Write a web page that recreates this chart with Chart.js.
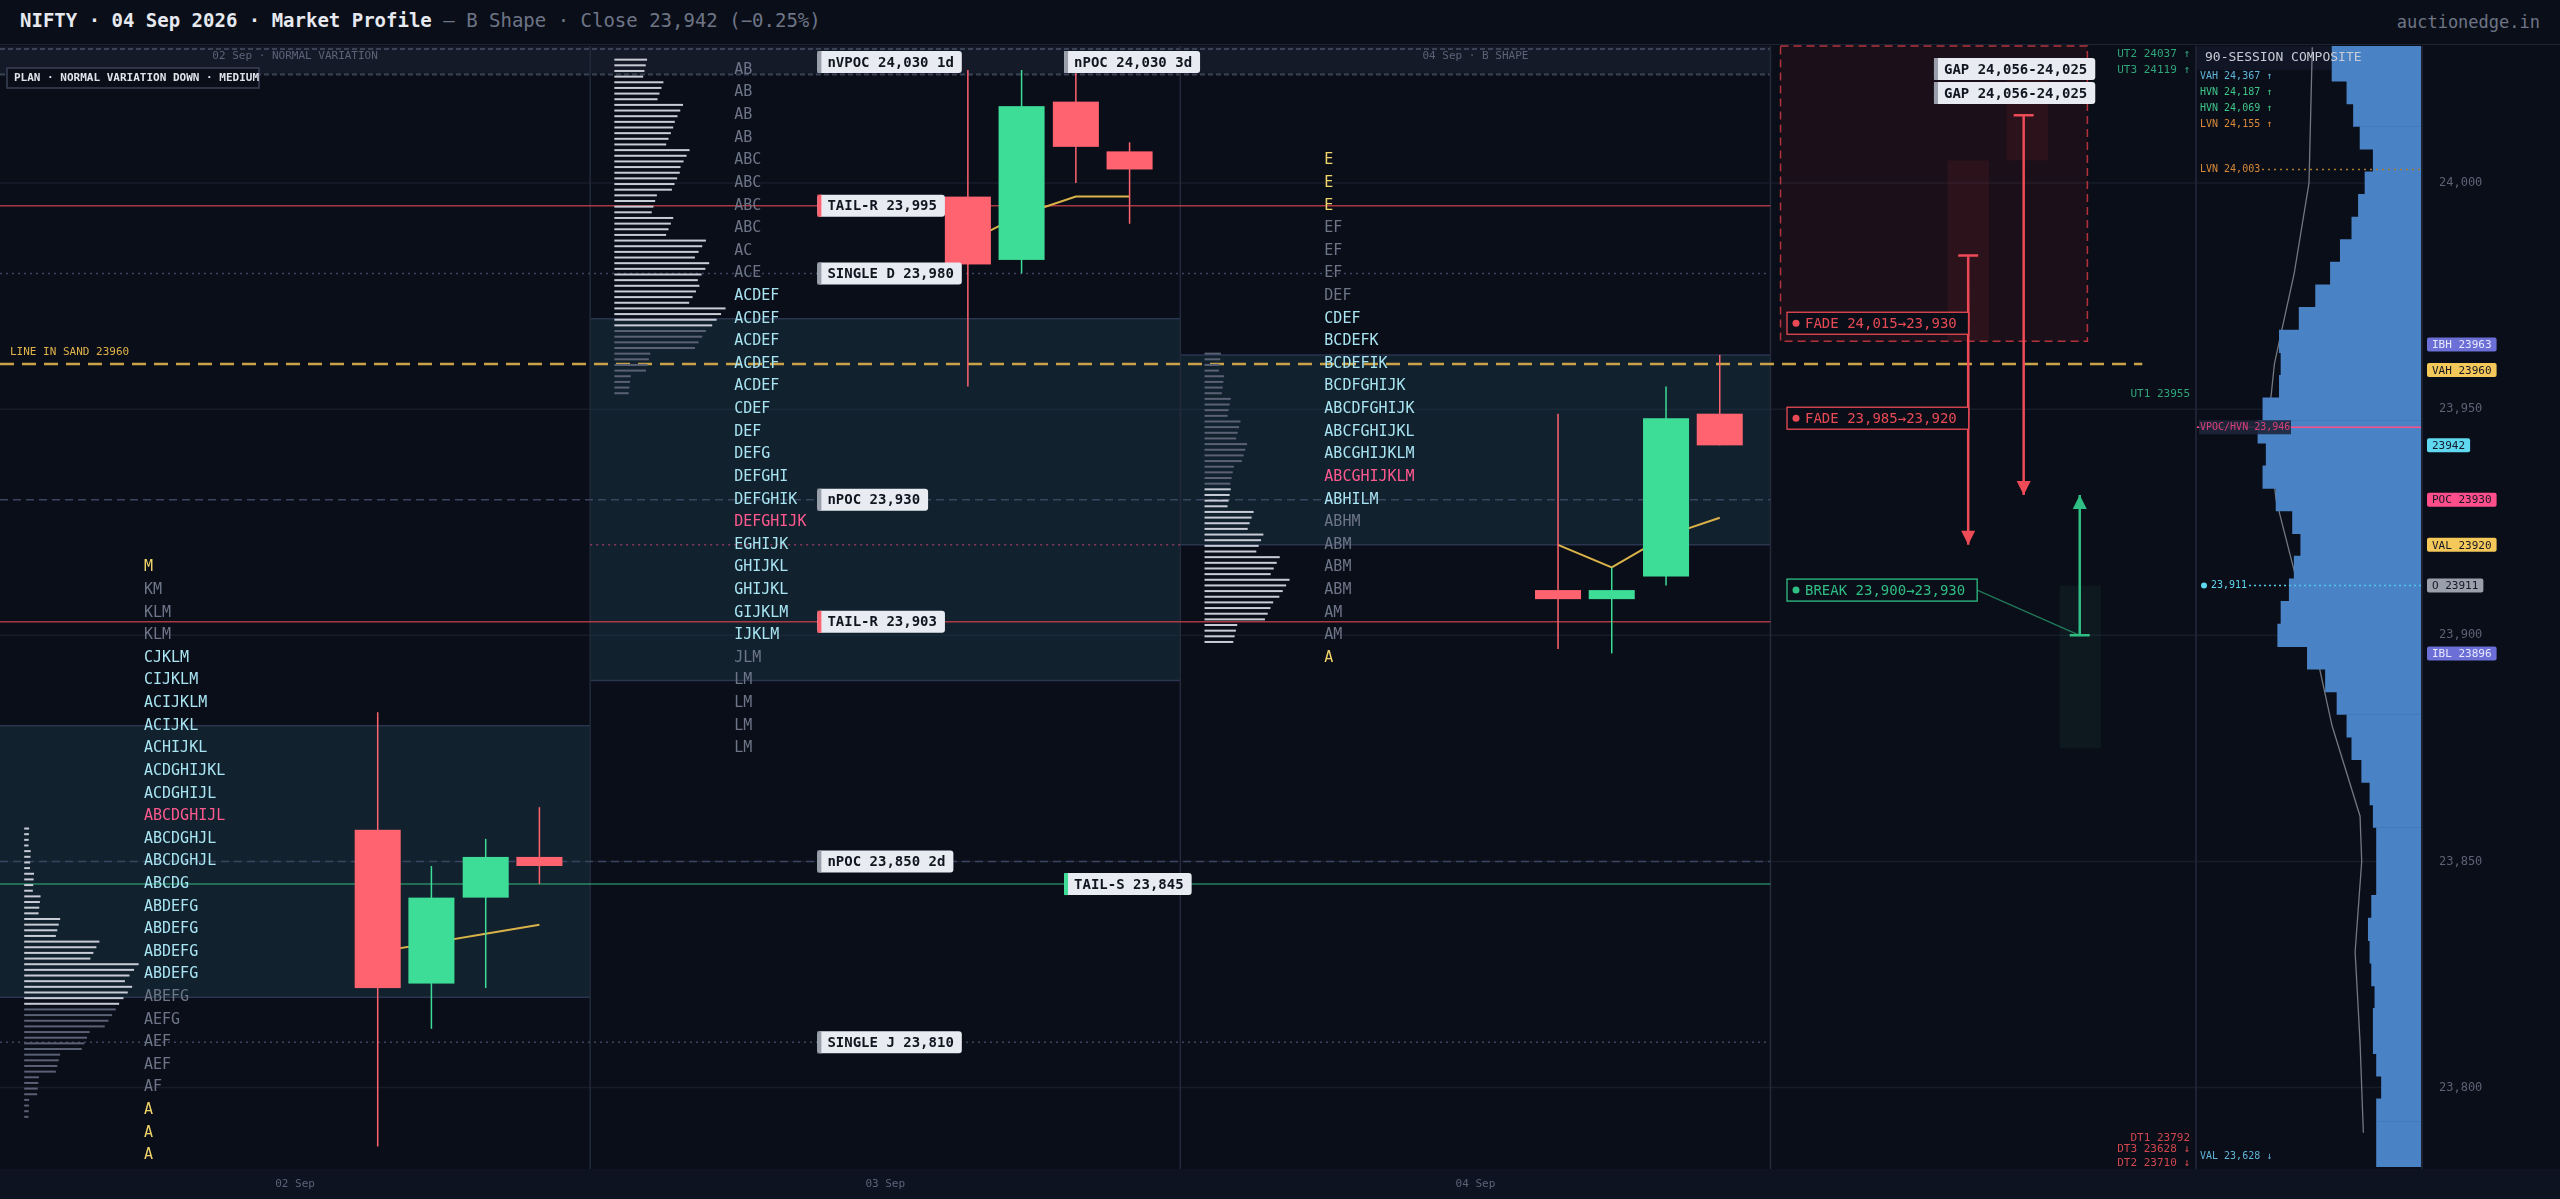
<!DOCTYPE html>
<html>
<head>
<meta charset="utf-8">
<script src="https://cdn.jsdelivr.net/npm/chart.js@4.4.1/dist/chart.umd.min.js"></script>
<style>
  html, body { margin: 0; padding: 0; background: #0a0e18; width: 2560px; height: 1199px; overflow: hidden; font-family: "DejaVu Sans Mono", monospace; }
  #header { position: absolute; left: 0; top: 0; width: 2560px; height: 44px; border-bottom: 1px solid #1c2333; }
  #title { position: absolute; left: 20px; top: 9px; font-size: 19px; color: #e6e9ef; font-weight: bold; }
  #title span { color: #6e7587; font-weight: normal; }
  #brand { position: absolute; right: 20px; top: 12px; font-size: 17px; color: #6e7587; }
  #mainWrap { position: absolute; left: 0; top: 0; width: 2197px; height: 1199px; }
  #compWrap { position: absolute; left: 2197px; top: 0; width: 363px; height: 1199px; }
</style>
</head>
<body>
<div id="header">
  <div id="title">NIFTY · 04 Sep 2026 · Market Profile <span>— B Shape · Close 23,942 (−0.25%)</span></div>
  <div id="brand">auctionedge.in</div>
</div>
<div id="mainWrap"><canvas id="mainChart"></canvas></div>
<div id="compWrap"><canvas id="compChart"></canvas></div>
<script>
// ---- data ----
const sessions = ['02 Sep', '03 Sep', '04 Sep'];
const sessionTags = ['02 Sep · NORMAL VARIATION', '', '04 Sep · B SHAPE'];

// TPO columns (top row price, 5 pt rows)
const tpoTop = [23915, 24025, 24005];
const tpoRows1 = ['M','KM','KLM','KLM','CJKLM','CIJKLM','ACIJKLM','ACIJKL','ACHIJKL','ACDGHIJKL','ACDGHIJL','ABCDGHIJL','ABCDGHJL','ABCDGHJL','ABCDG','ABDEFG','ABDEFG','ABDEFG','ABDEFG','ABEFG','AEFG','AEF','AEF','AF','A','A','A'];
const tpoRows2 = ['AB','AB','AB','AB','ABC','ABC','ABC','ABC','AC','ACE','ACDEF','ACDEF','ACDEF','ACDEF','ACDEF','CDEF','DEF','DEFG','DEFGHI','DEFGHIK','DEFGHIJK','EGHIJK','GHIJKL','GHIJKL','GIJKLM','IJKLM','JLM','LM','LM','LM','LM'];
const tpoRows3 = ['E','E','E','EF','EF','EF','DEF','CDEF','BCDEFK','BCDEFIK','BCDFGHIJK','ABCDFGHIJK','ABCFGHIJKL','ABCGHIJKLM','ABCGHIJKLM','ABHILM','ABHM','ABM','ABM','ABM','AM','AM','A'];
// row kind: y = single print, c = value area, p = poc, g = outside
const tpoKind1 = 'ygggcccccccpcccccccgggggyyy';
const tpoKind2 = 'ggggggggggccccccccccpcccccggggg';
const tpoKind3 = 'yyyggggcccccccpcggggggy';

// value areas [high, low]
const valueAreas = [[23880, 23820], [23970, 23890], [23962, 23920]];

// session volume histograms (price, length)
const hist1Price = [23855,23850,23845,23840,23835,23830,23825,23820,23815,23810,23805,23800,23795];
const hist1Len   = [3,4,6,10,22,46,70,66,56,40,22,9,3];
const hist2Price = [24025,24020,24015,24010,24005,24000,23995,23990,23985,23980,23975,23970,23965,23960,23955];
const hist2Len   = [20,30,42,36,46,40,26,36,56,58,52,68,56,22,10];
const hist3Price = [23960,23955,23950,23945,23940,23935,23930,23925,23920,23915,23910,23905,23900];
const hist3Len   = [10,12,16,22,26,18,16,30,36,46,52,42,20];

// candles per session: open, high, low, close
const candleOpen  = [[23857,23823,23842,23851],[23997,23983,24018,24007],[23910,23908,23913,23949]];
const candleHigh  = [[23883,23849,23855,23862],[24025,24025,24025,24009],[23949,23915,23955,23962]];
const candleLow   = [[23787,23813,23822,23845],[23955,23980,24000,23991],[23897,23896,23911,23942]];
const candleClose = [[23822,23842,23851,23849],[23982,24017,24008,24003],[23908,23910,23948,23942]];
const vwap        = [[23830,23832,23834,23836],[23987,23993,23997,23997],[23920,23915,23922,23926]];

// reference levels
const refLabels = ['TAIL-R 23,995','SINGLE D 23,980','nPOC 23,930','TAIL-R 23,903','nPOC 23,850 2d','TAIL-S 23,845','SINGLE J 23,810'];
const refPrices = [23995, 23980, 23930, 23903, 23850, 23845, 23810];
const refStyle  = ['tail','single','npoc','tail','npoc','tails','single'];
const lineInSand = 23960;

// composite profile (price bin, width)
const compPrice = [24030,24025,24020,24015,24010,24005,24000,23995,23990,23985,23980,23975,23970,23965,23960,23955,23950,23945,23940,23935,23930,23925,23920,23915,23910,23905,23900,23895,23890,23885,23880,23875,23870,23865,23860,23855,23850,23845,23840,23835,23830,23825,23820,23815,23810,23805,23800,23795,23790,23785];
const compWidth = [54,54,45,41,37,29,34,38,42,49,55,64,74,86,85,86,96,99,94,96,88,78,73,77,80,85,87,69,58,51,45,42,36,31,29,27,27,27,30,32,31,30,28,29,29,27,24,27,27,27];
const compCurvePrice = [24030,24000,23980,23960,23946,23930,23910,23895,23880,23860,23850,23830,23810,23790];
const compCurveLen   = [66,68,77,89,93,88,74,63,54,37,36,40,37,35];
const compTags  = ['IBH 23963','VAH 23960','23942','POC 23930','VAL 23920','O 23911','IBL 23896'];
const compTagP  = [23963, 23960, 23942, 23930, 23920, 23911, 23896];
const compTagC  = ['#6b6fd6','#f5c85a','#5fd8f0','#ff4f8b','#f5c85a','#9aa0ab','#6b6fd6'];

const yMin = 23782, yMax = 24030.3;
const candleX = [0.64, 0.731, 0.823, 0.914];

const GREEN = '#3ddc97', RED = '#ff6370', MONO = '"DejaVu Sans Mono", monospace';

function boxLabel(ctx, x, y, text, accent) {
  ctx.font = 'bold 14px ' + MONO;
  const w = ctx.measureText(text).width + 18;
  ctx.fillStyle = '#e8ebf1';
  ctx.beginPath(); ctx.roundRect(x, y - 11, w, 22, 3); ctx.fill();
  ctx.fillStyle = accent;
  ctx.fillRect(x, y - 11, 4, 22);
  ctx.fillStyle = '#111520';
  ctx.textBaseline = 'middle'; ctx.textAlign = 'left';
  ctx.fillText(text, x + 10, y + 1);
}

function hline(ctx, area, y, x0, x1, color, dash, width) {
  ctx.save();
  ctx.strokeStyle = color; ctx.lineWidth = width || 1.3; ctx.setLineDash(dash || []);
  ctx.beginPath(); ctx.moveTo(x0, y); ctx.lineTo(x1, y); ctx.stroke();
  ctx.restore();
}

function arrow(ctx, x, y0, y1, color) {
  ctx.save();
  ctx.strokeStyle = color; ctx.fillStyle = color; ctx.lineWidth = 2.5;
  ctx.beginPath(); ctx.moveTo(x - 10, y0); ctx.lineTo(x + 10, y0); ctx.moveTo(x, y0); ctx.lineTo(x, y1); ctx.stroke();
  const d = y1 > y0 ? 1 : -1;
  ctx.beginPath(); ctx.moveTo(x - 7, y1 - 14 * d); ctx.lineTo(x + 7, y1 - 14 * d); ctx.lineTo(x, y1); ctx.closePath(); ctx.fill();
  ctx.restore();
}

const backdrop = {
  id: 'backdrop',
  beforeDatasetsDraw(chart) {
    const { ctx, chartArea: a, scales: { x, y } } = chart;
    ctx.save();
    // top strip
    ctx.fillStyle = '#151a28';
    ctx.fillRect(0, a.top, x.getPixelForValue(3), y.getPixelForValue(24024) - a.top);
    hline(ctx, a, a.top + 3, 0, x.getPixelForValue(3), '#3a4256', [5, 3], 2);
    hline(ctx, a, y.getPixelForValue(24024), 0, x.getPixelForValue(3), '#3a4256', [5, 3], 2);
    // grid
    [24000, 23950, 23900, 23850, 23800].forEach(p => hline(ctx, a, y.getPixelForValue(p), 0, a.right, '#161c2a', [], 1.5));
    // value areas
    valueAreas.forEach((va, s) => {
      const top = y.getPixelForValue(va[0]), bot = y.getPixelForValue(va[1]);
      ctx.fillStyle = 'rgba(28,58,74,0.45)';
      ctx.fillRect(x.getPixelForValue(s), top, x.getPixelForValue(s + 1) - x.getPixelForValue(s), bot - top);
      hline(ctx, a, top, x.getPixelForValue(s), x.getPixelForValue(s + 1), '#2a3550', [], 1.5);
      hline(ctx, a, bot, x.getPixelForValue(s), x.getPixelForValue(s + 1), '#2a3550', [], 1.5);
    });
    // session dividers
    ctx.strokeStyle = '#222a3b'; ctx.lineWidth = 1.5;
    [1, 2, 3].forEach(s => { const px = x.getPixelForValue(s); ctx.beginPath(); ctx.moveTo(px, a.top); ctx.lineTo(px, a.bottom); ctx.stroke(); });
    ctx.beginPath(); ctx.moveTo(a.right, a.top); ctx.lineTo(a.right, a.bottom); ctx.stroke();
    // reference lines
    const x3 = x.getPixelForValue(3);
    refPrices.forEach((p, i) => {
      const py = y.getPixelForValue(p), st = refStyle[i];
      if (st === 'tail') hline(ctx, a, py, 0, x3, 'rgba(220,70,80,0.75)', [], 1.5);
      else if (st === 'tails') hline(ctx, a, py, 0, x3, 'rgba(61,220,151,0.55)', [], 1.5);
      else if (st === 'npoc') hline(ctx, a, py, 0, x3, '#3b4560', [8, 5], 1.5);
      else hline(ctx, a, py, 0, x3, '#3b4560', [2, 4], 1.5);
    });
    hline(ctx, a, y.getPixelForValue(23920), x.getPixelForValue(1), x.getPixelForValue(2), 'rgba(255,79,139,0.5)', [2, 4], 1.5);
    hline(ctx, a, y.getPixelForValue(lineInSand), 0, x.getPixelForValue(3.63), '#c9a24a', [14, 8], 2.5);
    ctx.fillStyle = '#e0b24c'; ctx.font = '11px ' + MONO; ctx.textAlign = 'left'; ctx.textBaseline = 'bottom';
    ctx.fillText('LINE IN SAND 23960', 10, y.getPixelForValue(lineInSand) - 6);

    // future panel: gap box
    const gx0 = x.getPixelForValue(3.017), gx1 = x.getPixelForValue(3.537);
    const gy0 = a.top, gy1 = y.getPixelForValue(23965);
    ctx.fillStyle = 'rgba(120,30,40,0.16)'; ctx.fillRect(gx0, gy0, gx1 - gx0, gy1 - gy0);
    ctx.strokeStyle = 'rgba(220,60,70,0.8)'; ctx.setLineDash([8, 5]); ctx.lineWidth = 1.5;
    ctx.strokeRect(gx0, gy0, gx1 - gx0, gy1 - gy0); ctx.setLineDash([]);
    ctx.fillStyle = 'rgba(120,30,40,0.18)';
    ctx.fillRect(x.getPixelForValue(3.3), y.getPixelForValue(24005), x.getPixelForValue(3.37) - x.getPixelForValue(3.3), y.getPixelForValue(23965) - y.getPixelForValue(24005));
    ctx.fillRect(x.getPixelForValue(3.4), y.getPixelForValue(24025), x.getPixelForValue(3.47) - x.getPixelForValue(3.4), y.getPixelForValue(24005) - y.getPixelForValue(24025));
    ctx.fillStyle = 'rgba(40,110,80,0.12)';
    ctx.fillRect(x.getPixelForValue(3.49), y.getPixelForValue(23911), x.getPixelForValue(3.56) - x.getPixelForValue(3.49), y.getPixelForValue(23875) - y.getPixelForValue(23911));
    ctx.restore();
  },
  afterDatasetsDraw(chart) {
    const { ctx, chartArea: a, scales: { x, y } } = chart;
    ctx.save();
    // histograms
    [[hist1Price, hist1Len, 23820, 23880], [hist2Price, hist2Len, 23970, 24030], [hist3Price, hist3Len, 23930, 23930]].forEach((h, s) => {
      const x0 = x.getPixelForValue(s + 0.041);
      h[0].forEach((p, i) => {
        const len = h[1][i] / 361 * (x.getPixelForValue(1) - x.getPixelForValue(0));
        const inVa = s === 2 ? p <= 23930 : (p >= h[2] && p <= h[3]);
        ctx.fillStyle = inVa ? '#c8ccd6' : '#5a6174';
        for (let k = 0; k < 4; k++) ctx.fillRect(x0, y.getPixelForValue(p + 2.5 - k * 1.25) , len * (1 - k * 0.04), 2);
      });
    });
    // TPO letters
    ctx.font = '15px ' + MONO; ctx.textAlign = 'left'; ctx.textBaseline = 'middle';
    const kindColor = { y: '#f0d36a', c: '#a8e4f2', p: '#ff5a8f', g: '#6d7588' };
    [[tpoRows1, tpoKind1], [tpoRows2, tpoKind2], [tpoRows3, tpoKind3]].forEach((t, s) => {
      t[0].forEach((txt, i) => {
        ctx.fillStyle = kindColor[t[1][i]] || '#6d7588';
        ctx.fillText(txt, x.getPixelForValue(s + 0.244), y.getPixelForValue(tpoTop[s] - 5 * i));
      });
    });
    // candles
    const cw = (x.getPixelForValue(0.078) - x.getPixelForValue(0));
    candleOpen.forEach((row, s) => row.forEach((o, i) => {
      const c = candleClose[s][i], cx = x.getPixelForValue(s + candleX[i]);
      const col = c >= o ? GREEN : RED;
      ctx.strokeStyle = col; ctx.lineWidth = 1.5;
      ctx.beginPath(); ctx.moveTo(cx, y.getPixelForValue(candleHigh[s][i])); ctx.lineTo(cx, y.getPixelForValue(candleLow[s][i])); ctx.stroke();
      const t = y.getPixelForValue(Math.max(o, c)), b = y.getPixelForValue(Math.min(o, c));
      ctx.fillStyle = col; ctx.fillRect(cx - cw / 2, t, cw, Math.max(b - t, 8));
    }));
    // session tags
    ctx.font = '11px ' + MONO; ctx.fillStyle = '#5c6376'; ctx.textAlign = 'center';
    sessionTags.forEach((t, s) => { if (t) ctx.fillText(t, x.getPixelForValue(s + 0.5), a.top + 10); });
    // plan box
    ctx.font = 'bold 11px ' + MONO; ctx.textAlign = 'left';
    ctx.fillStyle = '#0a0e18'; ctx.strokeStyle = '#3a4256'; ctx.lineWidth = 1.5;
    ctx.fillRect(7, a.top + 22, 252, 20); ctx.strokeRect(7, a.top + 22, 252, 20);
    ctx.fillStyle = '#dfe3ea'; ctx.fillText('PLAN · NORMAL VARIATION DOWN · MEDIUM', 14, a.top + 32);
    // labels
    const lx = x.getPixelForValue(1.385), lx2 = x.getPixelForValue(1.803);
    boxLabel(ctx, lx, a.top + 16, 'nVPOC 24,030 1d', '#9aa0ab');
    boxLabel(ctx, lx2, a.top + 16, 'nPOC 24,030 3d', '#9aa0ab');
    refPrices.forEach((p, i) => {
      const st = refStyle[i];
      const acc = st === 'tail' ? RED : st === 'tails' ? GREEN : '#9aa0ab';
      boxLabel(ctx, st === 'tails' ? lx2 : lx, y.getPixelForValue(p), refLabels[i], acc);
    });
    // future panel
    const g = x.getPixelForValue(3.277);
    boxLabel(ctx, g, a.top + 23, 'GAP 24,056-24,025', '#9aa0ab');
    boxLabel(ctx, g, a.top + 47, 'GAP 24,056-24,025', '#9aa0ab');
    arrow(ctx, x.getPixelForValue(3.335), y.getPixelForValue(23984), y.getPixelForValue(23920), '#ef4b57');
    arrow(ctx, x.getPixelForValue(3.429), y.getPixelForValue(24015), y.getPixelForValue(23931), '#ef4b57');
    arrow(ctx, x.getPixelForValue(3.524), y.getPixelForValue(23900), y.getPixelForValue(23931), '#2fbf85');
    const fx = x.getPixelForValue(3.028);
    const plays = [['FADE 24,015→23,930', 23969, '#e84a55', 3.335, 23984], ['FADE 23,985→23,920', 23948, '#e84a55', 3.335, 23984], ['BREAK 23,900→23,930', 23910, '#2fbf85', 3.524, 23900]];
    ctx.font = '14px ' + MONO;
    plays.forEach(pl => {
      const py = y.getPixelForValue(pl[1]);
      const w = ctx.measureText(pl[0]).width + 30;
      ctx.strokeStyle = pl[2]; ctx.lineWidth = 1.3; ctx.globalAlpha = 0.6;
      ctx.beginPath(); ctx.moveTo(fx + w, py); ctx.lineTo(x.getPixelForValue(pl[3]), y.getPixelForValue(pl[4])); ctx.stroke();
      ctx.globalAlpha = 1;
      ctx.fillStyle = '#0a0e18'; ctx.fillRect(fx, py - 11, w, 22);
      ctx.strokeRect(fx, py - 11, w, 22);
      ctx.fillStyle = pl[2]; ctx.beginPath(); ctx.arc(fx + 9, py, 3.5, 0, Math.PI * 2); ctx.fill();
      ctx.textBaseline = 'middle'; ctx.fillText(pl[0], fx + 18, py + 1);
    });
    // targets
    ctx.font = '11px ' + MONO; ctx.textAlign = 'right';
    const tx = a.right - 6;
    [['UT2 24037 ↑', a.top + 8, '#2fa57a'], ['UT3 24119 ↑', a.top + 24, '#2fa57a'], ['UT1 23955', y.getPixelForValue(23955) + 8, '#2fa57a'],
     ['DT1 23792', y.getPixelForValue(23792) + 14, '#d0474f'], ['DT3 23628 ↓', a.bottom - 20, '#d0474f'], ['DT2 23710 ↓', a.bottom - 6, '#d0474f']]
      .forEach(t => { ctx.fillStyle = t[2]; ctx.fillText(t[0], tx, t[1]); });
    // bottom axis strip
    ctx.fillStyle = '#0e1322'; ctx.fillRect(0, a.bottom, chart.width, chart.height - a.bottom);
    ctx.fillStyle = '#5c6376'; ctx.textAlign = 'center'; ctx.font = '11px ' + MONO;
    sessions.forEach((s, i) => ctx.fillText(s, x.getPixelForValue(i + 0.5), a.bottom + 15));
    ctx.restore();
  }
};

const vwapSets = vwap.map((row, s) => ({
  type: 'line',
  data: row.map((v, i) => ({ x: s + candleX[i], y: v })),
  borderColor: '#d9b24a', borderWidth: 2, pointRadius: 0, tension: 0
}));

new Chart(document.getElementById('mainChart'), {
  type: 'line',
  data: { datasets: vwapSets },
  options: {
    responsive: true, maintainAspectRatio: false, animation: false, devicePixelRatio: 1,
    layout: { padding: { top: 46, bottom: 30, left: 0, right: 1 } },
    plugins: { legend: { display: false }, tooltip: { enabled: false } },
    scales: {
      x: { type: 'linear', min: 0, max: 3.721, display: false },
      y: { type: 'linear', min: yMin, max: yMax, display: false }
    }
  },
  plugins: [backdrop]
});

const compOverlay = {
  id: 'compOverlay',
  beforeDatasetsDraw(chart) {
    const { ctx, chartArea: a, scales: { y } } = chart;
    ctx.save();
    ctx.fillStyle = '#0e1322'; ctx.fillRect(0, a.bottom, chart.width, chart.height - a.bottom);
    ctx.fillStyle = '#101626'; ctx.fillRect(a.left, a.top, a.width, 24);
    [24000, 23950, 23900, 23850, 23800].forEach(p => hline(ctx, a, y.getPixelForValue(p), a.left, a.right, '#161c2a', [], 1.5));
    ctx.restore();
  },
  afterDatasetsDraw(chart) {
    const { ctx, chartArea: a, scales: { y } } = chart;
    ctx.save();
    ctx.strokeStyle = '#222a3b'; ctx.lineWidth = 1.5;
    ctx.beginPath(); ctx.moveTo(a.right + 1, a.top); ctx.lineTo(a.right + 1, a.bottom); ctx.stroke();
    ctx.font = '13px ' + MONO; ctx.fillStyle = '#c8ccd6'; ctx.textAlign = 'left'; ctx.textBaseline = 'middle';
    ctx.fillText('90-SESSION COMPOSITE', a.left + 8, a.top + 12);
    ctx.font = '10px ' + MONO;
    [['VAH 24,367 ↑', '#5fb4d8'], ['HVN 24,187 ↑', '#3fc48a'], ['HVN 24,069 ↑', '#3fc48a'], ['LVN 24,155 ↑', '#d88a3a']]
      .forEach((t, i) => { ctx.fillStyle = t[1]; ctx.fillText(t[0], a.left + 3, a.top + 30 + i * 16); });
    // LVN line
    let py = y.getPixelForValue(24003);
    hline(ctx, a, py, a.left + 65, a.right, '#b07a30', [2, 4], 1.5);
    ctx.fillStyle = '#d88a3a'; ctx.fillText('LVN 24,003', a.left + 3, py);
    py = y.getPixelForValue(23946);
    hline(ctx, a, py, a.left, a.right, '#ff4f8b', [], 1.3);
    ctx.fillStyle = 'rgba(30,38,58,0.9)'; ctx.fillRect(a.left + 2, py - 7, 92, 14);
    ctx.fillStyle = '#d8407a'; ctx.fillText('VPOC/HVN 23,946', a.left + 3, py);
    py = y.getPixelForValue(23911);
    hline(ctx, a, py, a.left + 52, a.right, '#4fc7e6', [2, 3], 1.5);
    ctx.fillStyle = '#5fd8f0'; ctx.beginPath(); ctx.arc(a.left + 7, py, 3, 0, Math.PI * 2); ctx.fill();
    ctx.fillText('23,911', a.left + 14, py);
    ctx.fillStyle = '#5fb4d8'; ctx.fillText('VAL 23,628 ↓', a.left + 3, a.bottom - 13);
    // tags
    ctx.font = '11px ' + MONO;
    compTags.forEach((t, i) => {
      const ty = y.getPixelForValue(compTagP[i]) + (i === 0 ? -6 : i === 1 ? 6 : 0);
      const w = ctx.measureText(t).width + 10;
      ctx.fillStyle = compTagC[i]; ctx.beginPath(); ctx.roundRect(a.right + 6, ty - 7, w, 14, 2); ctx.fill();
      ctx.fillStyle = (i === 0 || i === 6) ? '#e8e9ff' : '#131726';
      ctx.fillText(t, a.right + 11, ty + 1);
    });
    ctx.restore();
  }
};

new Chart(document.getElementById('compChart'), {
  type: 'bar',
  data: {
    datasets: [
      { type: 'bar', data: compPrice.map((p, i) => ({ x: compWidth[i], y: p })), backgroundColor: '#4a82c6', barPercentage: 1, categoryPercentage: 1 },
      { type: 'line', indexAxis: 'y', data: compCurvePrice.map((p, i) => ({ x: compCurveLen[i], y: p })), borderColor: 'rgba(200,205,215,0.55)', borderWidth: 1.3, pointRadius: 0 }
    ]
  },
  options: {
    indexAxis: 'y', responsive: true, maintainAspectRatio: false, animation: false, devicePixelRatio: 1,
    layout: { padding: { top: 46, bottom: 30, left: 0, right: 0 } },
    plugins: { legend: { display: false }, tooltip: { enabled: false } },
    scales: {
      x: { type: 'linear', min: 0, max: 136, reverse: true, display: false },
      y: {
        type: 'linear', position: 'right', min: yMin, max: yMax, offset: false, afterFit: s => { s.width = 139; },
        grid: { display: false }, border: { display: false },
        afterBuildTicks: s => { s.ticks = [24000, 23950, 23900, 23850, 23800].map(v => ({ value: v })); },
        ticks: { color: '#5c6376', font: { family: MONO, size: 12 }, padding: 10, callback: v => v.toLocaleString('en-US') }
      }
    }
  },
  plugins: [compOverlay]
});
</script>
</body>
</html>
